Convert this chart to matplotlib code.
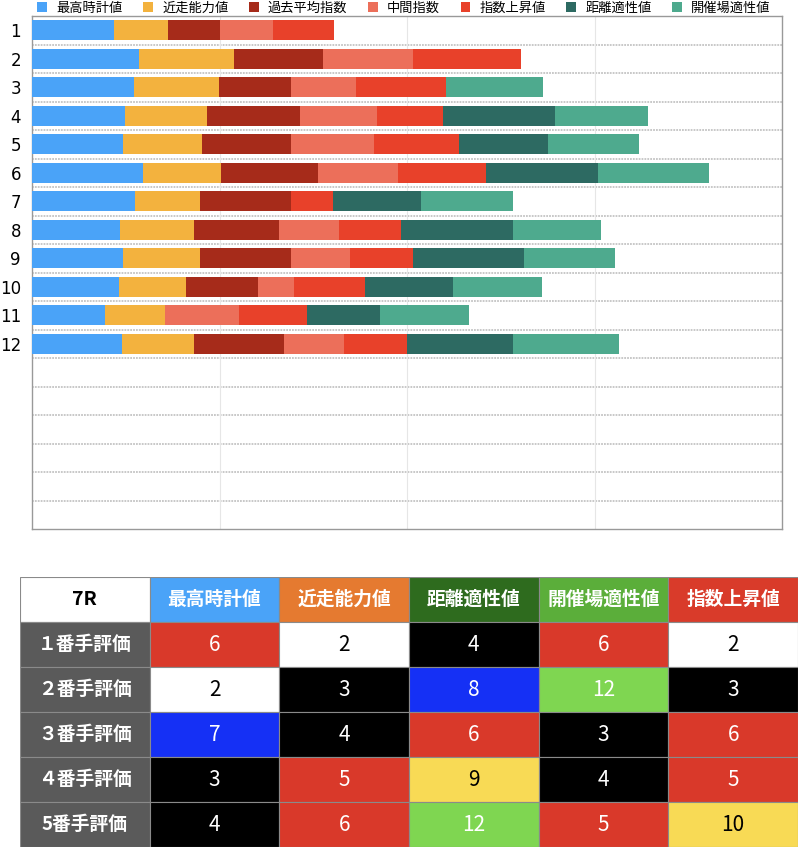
import matplotlib
matplotlib.use("Agg")
from matplotlib import pyplot as plt
from matplotlib.patches import Rectangle
import numpy as np

plt.rcParams['font.family'] = ['Noto Sans CJK JP', 'DejaVu Sans']

series = ['最高時計値', '近走能力値', '過去平均指数', '中間指数', '指数上昇値', '距離適性値', '開催場適性値']
colors = ['#4aa3f8', '#f3b23e', '#a62b1a', '#ec6f5a', '#e8412a', '#2d6a62', '#4eaa8e']
horses = [str(i) for i in range(1, 13)]
n_rows = 18

best_time = [4.39, 5.72, 5.42, 4.96, 4.87, 5.90, 5.49, 4.71, 4.87, 4.64, 3.91, 4.78]
recent = [2.88, 5.07, 4.57, 4.39, 4.21, 4.16, 3.47, 3.91, 4.09, 3.57, 3.18, 3.84]
past_avg = [2.77, 4.71, 3.82, 4.94, 4.73, 5.21, 4.85, 4.55, 4.85, 3.86, 0.00, 4.80]
middle = [2.81, 4.80, 3.47, 4.09, 4.43, 4.27, 0.00, 3.20, 3.13, 1.90, 3.95, 3.20]
rise = [3.27, 5.76, 4.78, 3.52, 4.55, 4.69, 2.24, 3.29, 3.36, 3.79, 3.63, 3.36]
distance = [0.00, 0.00, 0.00, 5.99, 4.71, 5.94, 4.71, 5.99, 5.92, 4.69, 3.89, 5.67]
venue = [0.00, 0.00, 5.21, 4.98, 4.89, 5.92, 4.89, 4.71, 4.87, 4.73, 4.76, 5.67]

# table
table_title = '7R'
table_cols = ['最高時計値', '近走能力値', '距離適性値', '開催場適性値', '指数上昇値']
table_col_colors = ['#4aa3f8', '#e57a30', '#2e6b1e', '#5bae3a', '#d93b2a']
table_rows = ['１番手評価', '２番手評価', '３番手評価', '４番手評価', '5番手評価']
table_vals = [[6, 2, 4, 6, 2],
              [2, 3, 8, 12, 3],
              [7, 4, 6, 3, 6],
              [3, 5, 9, 4, 5],
              [4, 6, 12, 5, 10]]

def cell_style(v):
    if v <= 2:
        return '#ffffff', 'black'
    if v <= 4:
        return '#000000', 'white'
    if v <= 6:
        return '#d9392a', 'white'
    if v <= 8:
        return '#1530f5', 'white'
    if v <= 10:
        return '#f8da55', 'black'
    return '#7fd651', 'white'


fig = plt.figure(figsize=(8, 8.47), dpi=100)
ax = fig.add_axes([0.04, 1 - 529 / 847, 0.9375, (529 - 16) / 847])

data = np.array([best_time, recent, past_avg, middle, rise, distance, venue])
y = np.arange(len(horses))
left = np.zeros(len(horses))
for vals, name, c in zip(data, series, colors):
    ax.barh(y, vals, left=left, height=0.7, color=c, label=name, zorder=3)
    left += vals

ax.set_xlim(0, 40)
ax.set_ylim(n_rows - 0.5, -0.5)
ax.set_yticks(y)
ax.set_yticklabels(horses, fontsize=12, family=['DejaVu Sans'])
ax.set_xticks([10, 20, 30])
ax.set_xticklabels([])
ax.tick_params(length=0, pad=8)
ax.grid(axis='x', color='#e6e6e6', lw=0.8, zorder=0)
for k in range(n_rows - 1):
    ax.axhline(k + 0.5, color='#c4c4c4', lw=1.3, ls=(0, (1, 0.6)), zorder=1)
for s in ax.spines.values():
    s.set_color('#999999')
    s.set_linewidth(1)

fig.legend(loc='upper center', bbox_to_anchor=(0.505, 1.012), ncol=7, frameon=False,
           fontsize=9.5, handlelength=0.75, handleheight=0.75, handletextpad=0.7,
           columnspacing=1.55)

# evaluation table
tx = fig.add_axes([20 / 800, 0, 778 / 800, 270 / 847])
tx.set_xlim(0, 6)
tx.set_ylim(6, 0)
tx.axis('off')
edge = '#8a8a8a'

tx.add_patch(Rectangle((0, 0), 1, 1, facecolor='white', edgecolor=edge, lw=0.8))
tx.text(0.5, 0.5, table_title, ha='center', va='center', fontsize=14, weight='bold')
for j, (name, c) in enumerate(zip(table_cols, table_col_colors)):
    tx.add_patch(Rectangle((j + 1, 0), 1, 1, facecolor=c, edgecolor=edge, lw=0.8))
    tx.text(j + 1.5, 0.5, name, ha='center', va='center', fontsize=13.5,
            weight='bold', color='white')
for i, name in enumerate(table_rows):
    tx.add_patch(Rectangle((0, i + 1), 1, 1, facecolor='#5a5a5a', edgecolor=edge, lw=0.8))
    tx.text(0.5, i + 1.5, name, ha='center', va='center', fontsize=13.5,
            weight='bold', color='white')
    for j, v in enumerate(table_vals[i]):
        bg, fg = cell_style(v)
        tx.add_patch(Rectangle((j + 1, i + 1), 1, 1, facecolor=bg, edgecolor=edge, lw=0.8))
        tx.text(j + 1.5, i + 1.5, str(v), ha='center', va='center', fontsize=15, color=fg)

fig.savefig('out.png', dpi=100)
